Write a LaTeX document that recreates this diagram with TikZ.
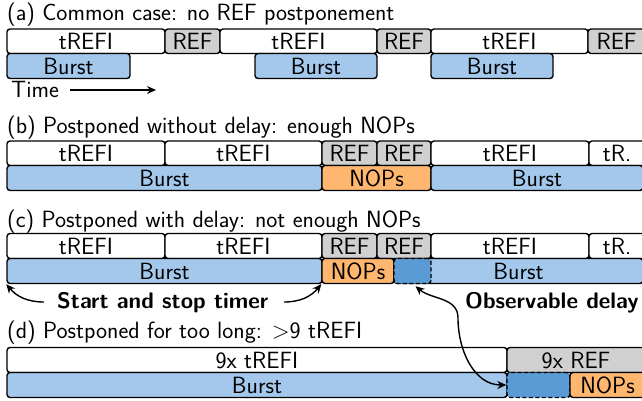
\documentclass[tikz,border=0pt]{standalone}
\usetikzlibrary{arrows.meta}
\definecolor{refgray}{HTML}{D0D0D0}
\definecolor{burstblue}{HTML}{A3C8EC}
\definecolor{delayblue}{HTML}{5B9BD5}
\definecolor{noporange}{HTML}{FFB66E}
\tikzset{
  cell/.style={draw=black, line width=1.4pt, rounded corners=3pt, inner sep=0pt,
    text height=16pt, text depth=0pt, fill=white},
  refcell/.style={cell, fill=refgray},
  burstcell/.style={cell, fill=burstblue},
  nopcell/.style={cell, fill=noporange},
  delaycell/.style={cell, fill=delayblue, dashed, dash pattern=on 4pt off 2.5pt},
  title/.style={anchor=base west, inner sep=0pt},
  bold/.style={anchor=base west, inner sep=0pt, font=\fontsize{22.5}{26}\selectfont\sffamily\bfseries},
  arr/.style={line width=1.4pt, -{Stealth[length=9pt,width=8pt]}},
}
% \cellbox{name}{style}{x1}{x2}{y1}{y2}{text}
\newcommand{\cellbox}[7]{\node[#2, minimum width={(#4-#3)*1pt}, minimum height={(#6-#5)*1pt}] (#1) at ({(#3+#4)/2},{(#5+#6)/2}) {#7};}
\begin{document}
\begin{tikzpicture}[x=1pt,y=-1pt, font=\fontsize{23.5}{27}\selectfont\sffamily]
\useasboundingbox (0,0) rectangle (642,400);
% (a)
\node[title] (ta) at (7,20) {(a) Common case: no REF postponement};
\cellbox{a1}{cell}{7}{165}{29}{53.5}{tREFI}
\cellbox{a2}{refcell}{165}{220}{29}{53.5}{REF}
\cellbox{a3}{cell}{220}{377}{29}{53.5}{tREFI}
\cellbox{a4}{refcell}{377}{431}{29}{53.5}{REF}
\cellbox{a5}{cell}{431}{588}{29}{53.5}{tREFI}
\cellbox{a6}{refcell}{588}{645}{29}{53.5}{REF}
\cellbox{ab1}{burstcell}{7}{130}{53.5}{78.5}{Burst}
\cellbox{ab2}{burstcell}{255}{377}{53.5}{78.5}{Burst}
\cellbox{ab3}{burstcell}{431}{553}{53.5}{78.5}{Burst}
\node[title] (time) at (11,97) {Time};
\coordinate (t1) at (70,90);
\coordinate (t2) at (156,90);
\draw[arr] (t1) -- (t2);
% (b)
\node[title] (tb) at (7,133) {(b) Postponed without delay: enough NOPs};
\cellbox{b1}{cell}{7}{165}{141}{165.5}{tREFI}
\cellbox{b2}{cell}{165}{322}{141}{165.5}{tREFI}
\cellbox{b3}{refcell}{322}{377}{141}{165.5}{REF}
\cellbox{b4}{refcell}{377}{431}{141}{165.5}{REF}
\cellbox{b5}{cell}{431}{589}{141}{165.5}{tREFI}
\cellbox{b6}{cell}{589}{645}{141}{165.5}{tR.}
\cellbox{bb1}{burstcell}{7}{322}{165.5}{190.5}{Burst}
\cellbox{bb2}{nopcell}{322}{431}{165.5}{190.5}{NOPs}
\cellbox{bb3}{burstcell}{431}{643}{165.5}{190.5}{Burst}
% (c)
\node[title] (tc) at (7,227) {(c) Postponed with delay: not enough NOPs};
\cellbox{c1}{cell}{7}{165}{233.5}{258.5}{tREFI}
\cellbox{c2}{cell}{165}{322}{233.5}{258.5}{tREFI}
\cellbox{c3}{refcell}{322}{377}{233.5}{258.5}{REF}
\cellbox{c4}{refcell}{377}{431}{233.5}{258.5}{REF}
\cellbox{c5}{cell}{431}{589}{233.5}{258.5}{tREFI}
\cellbox{c6}{cell}{589}{645}{233.5}{258.5}{tR.}
\cellbox{cb1}{burstcell}{7}{322}{258.5}{283.5}{Burst}
\cellbox{cb2}{nopcell}{322}{394}{258.5}{283.5}{NOPs}
\cellbox{cb3}{burstcell}{394}{643}{258.5}{283.5}{Burst}
\cellbox{cd}{delaycell}{394}{431}{258.5}{283.5}{}
\node[bold] (sst) at (57,308) {Start and stop timer};
\coordinate (sl) at (44,302);
\coordinate (sr) at (284,302);
\draw[arr] (sl) to[out=180,in=-50] (cb1.south west);
\draw[arr] (sr) to[out=0,in=-130] (cb2.south west);
\node[bold] (od) at (465,308) {Observable delay};
% (d)
\node[title] (td) at (7,338) {(d) Postponed for too long: >9 tREFI};
\cellbox{d1}{cell}{7}{507}{347.5}{372.5}{9x tREFI}
\cellbox{d2}{refcell}{507}{645}{347.5}{372.5}{9x REF}
\cellbox{db1}{burstcell}{7}{507}{372.5}{397.5}{Burst}
\cellbox{dd}{delaycell}{507}{570}{372.5}{397.5}{}
\cellbox{db2}{nopcell}{570}{645}{372.5}{397.5}{NOPs}
\coordinate (om) at (458,318);
\draw[arr] (om) to[out=90,in=-40] ([xshift=3pt,yshift=-2pt]cd.south);
\draw[arr] (om) to[out=-90,in=180] (dd.west);
\end{tikzpicture}
\end{document}
